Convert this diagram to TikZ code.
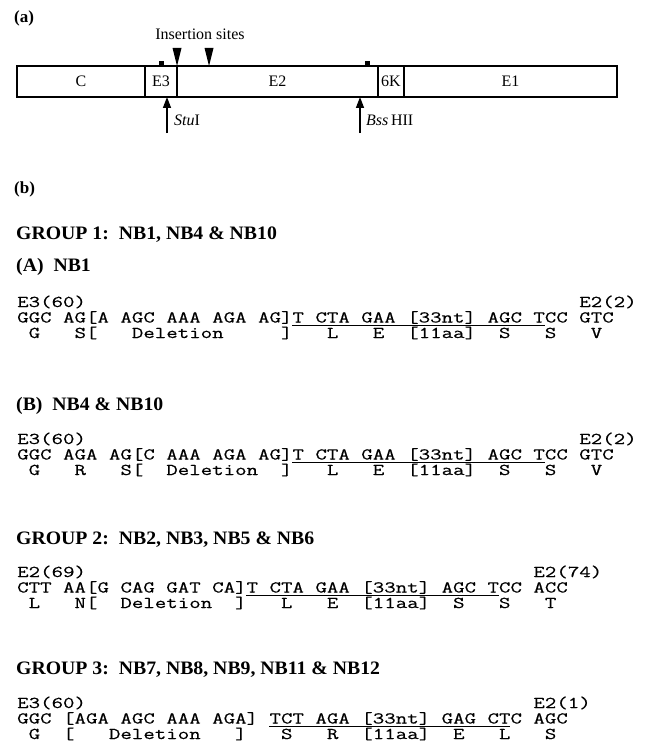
\documentclass[tikz,border=0pt]{standalone}
\usepackage{fontspec}
\setmainfont{Liberation Serif}
\newfontfamily\seqfont[FakeStretch=1.35,FakeBold=0.4]{Latin Modern Mono}
\newfontfamily\headfont[FakeStretch=1.04]{Liberation Serif}
\usepackage{tikz}
\usetikzlibrary{arrows.meta,positioning}

\newcommand\seqtext{\seqfont\fontsize{16.5pt}{16pt}\selectfont}
\newcommand\headtext{\headfont\bfseries\fontsize{19pt}{20pt}\selectfont}
\newcommand\parttext{\bfseries\fontsize{17pt}{18pt}\selectfont}
\newcommand\maptext{\fontsize{16pt}{18pt}\selectfont}
\newlength\chwlen
\AtBeginDocument{\settowidth\chwlen{\seqtext M}\pgfmathsetmacro\chw{\chwlen}}

\tikzset{
  gene/.style={
    draw,
    line width=1.6pt,
    minimum height=31pt,
    inner sep=0pt,
    outer sep=0pt,
    font=\maptext
  },
  bump/.style={fill, minimum width=5pt, minimum height=5pt, inner sep=0pt, anchor=south},
  cut/.style={-{Triangle[length=11pt,width=8pt]}, line width=1.4pt},
  lbl/.style={anchor=base west, inner sep=0pt, font=\maptext},
  head/.style={anchor=base west, inner sep=0pt, font=\headtext},
  seq/.style={anchor=base west, inner sep=0pt, font=\seqtext},
  uline/.style={line width=0.9pt}
}

\begin{document}
\begin{tikzpicture}[x=1pt, y=-1pt]
  \useasboundingbox (0,0) rectangle (660,749);

  % (a) map of the genome
  \node[head, font=\parttext] (parta) at (14,23) {(a)};
  \node[gene, minimum width=128pt, anchor=west] (c) at (17,81.5) {C};
  \node[gene, minimum width=32pt, right=0pt of c] (e3) {E3};
  \node[gene, minimum width=201pt, right=0pt of e3] (e2) {E2};
  \node[gene, minimum width=26pt, right=0pt of e2] (k6) {6K};
  \node[gene, minimum width=213pt, right=0pt of k6] (e1) {E1};

  \node[bump] (bump1) at (e3.north) {};
  \node[bump] (bump2) at ([xshift=-11pt]e2.north east) {};

  \node[lbl, anchor=base] (ins) at (200,40) {Insertion sites};
  \fill (e2.north west) -- ++(-4.5,-18) -- ++(9,0) -- cycle;
  \fill ([xshift=32pt]e2.north west) -- ++(-4.5,-18) -- ++(9,0) -- cycle;

  \coordinate (stu) at (167,133);
  \coordinate (bss) at (360,133);
  \draw[cut] (stu) -- (stu |- e3.south);
  \draw[cut] (bss) -- (bss |- e2.south);
  \node[lbl] (stulbl) at (174,125) {\textit{Stu}I};
  \node[lbl] (bsslbl) at (366,125) {\textit{Bss}\,HII};

  % (b) sequences
  \node[head, font=\parttext] (partb) at (14,193) {(b)};
  \node[head] (grp1) at (16,239.5) {GROUP 1:\ \ NB1, NB4 \& NB10};
  \node[head] (nb1) at (16,271.5) {(A)\ \ NB1};
  \node[seq] (nb1pos) at (17,307) {E3(60)};
  \node[seq] (nb1end) at ({17+49*\chw},307) {E2(2)};
  \node[seq] (nb1nt) at (17,322.5) {GGC~AG[A~AGC~AAA~AGA~AG]T~CTA~GAA~[33nt]~AGC~TCC~GTC};
  \node[seq] (nb1aa) at (17,338) {~G~~~S[~~~Deletion~~~~~]~~~L~~~E~~[11aa]~~S~~~S~~~V};
  \draw[uline] ({17+24*\chw},325) -- ({17+46*\chw},325);

  \node[head] (nb4) at (16,410.5) {(B)\ \ NB4 \& NB10};
  \node[seq] (nb4pos) at (17,444) {E3(60)};
  \node[seq] (nb4end) at ({17+49*\chw},444) {E2(2)};
  \node[seq] (nb4nt) at (17,459.5) {GGC~AGA~AG[C~AAA~AGA~AG]T~CTA~GAA~[33nt]~AGC~TCC~GTC};
  \node[seq] (nb4aa) at (17,475) {~G~~~R~~~S[~~Deletion~~]~~~L~~~E~~[11aa]~~S~~~S~~~V};
  \draw[uline] ({17+24*\chw},462) -- ({17+46*\chw},462);

  \node[head] (grp2) at (16,544) {GROUP 2:\ \ NB2, NB3, NB5 \& NB6};
  \node[seq] (nb2pos) at (17,577) {E2(69)};
  \node[seq] (nb2end) at ({17+45*\chw},577) {E2(74)};
  \node[seq] (nb2nt) at (17,592.5) {CTT~AA[G~CAG~GAT~CA]T~CTA~GAA~[33nt]~AGC~TCC~ACC};
  \node[seq] (nb2aa) at (17,608) {~L~~~N[~~Deletion~~]~~~L~~~E~~[11aa]~~S~~~S~~~T};
  \draw[uline] ({17+20*\chw},595) -- ({17+42*\chw},595);

  \node[head] (grp3) at (16,674.5) {GROUP 3:\ \ NB7, NB8, NB9, NB11 \& NB12};
  \node[seq] (nb7pos) at (17,708) {E3(60)};
  \node[seq] (nb7end) at ({17+45*\chw},708) {E2(1)};
  \node[seq] (nb7nt) at (17,723.5) {GGC~[AGA~AGC~AAA~AGA]~TCT~AGA~[33nt]~GAG~CTC~AGC};
  \node[seq] (nb7aa) at (17,739) {~G~~[~~~Deletion~~~]~~~S~~~R~~[11aa]~~E~~~L~~~S};
  \draw[uline] ({17+22*\chw},726) -- ({17+43*\chw},726);
\end{tikzpicture}
\end{document}
